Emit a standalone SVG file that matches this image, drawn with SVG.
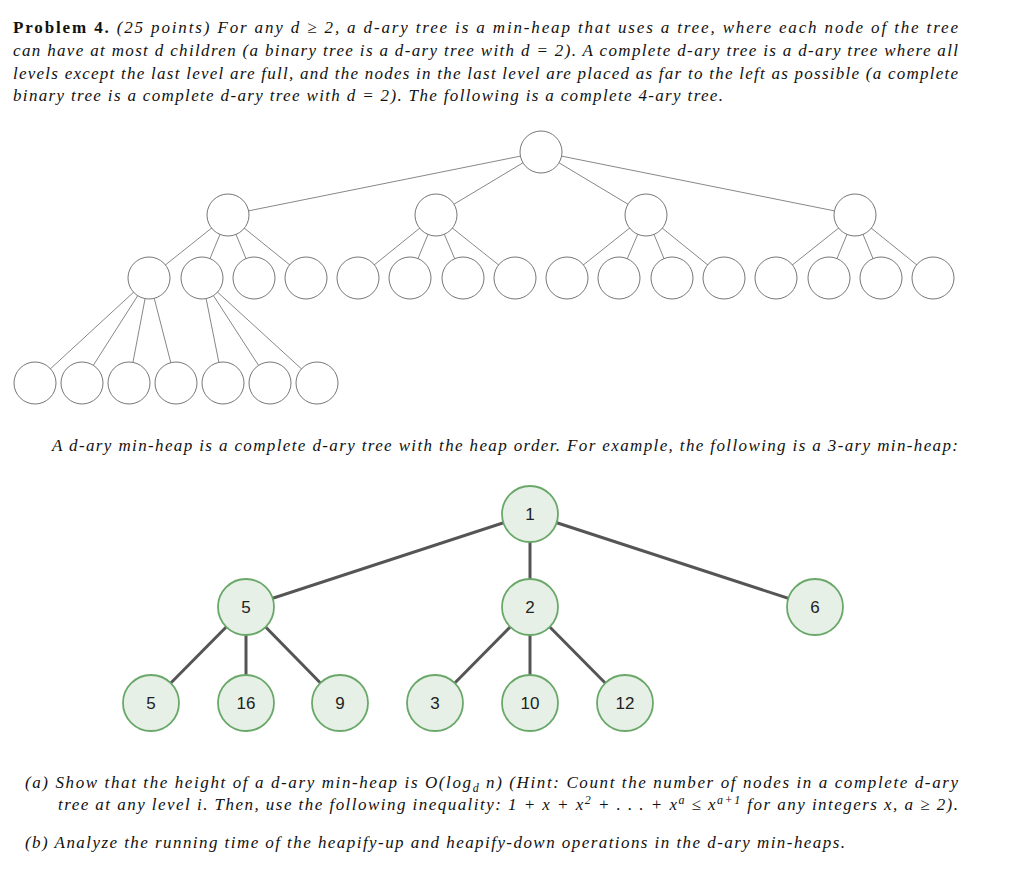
<svg xmlns="http://www.w3.org/2000/svg" width="1017" height="880" viewBox="0 0 1017 880">
<style>
.t{font-family:"Liberation Serif","DejaVu Serif",serif;font-size:17px;fill:#111}
.i{font-style:italic}
.b{font-weight:bold}
.e{fill:#fff;stroke:#777;stroke-width:1}
.ln{stroke:#888;stroke-width:1}
.h{fill:#e6f0e6;stroke:#6aa86a;stroke-width:1.8}
.hl{stroke:#555;stroke-width:3}
.n{font-family:"Liberation Sans","DejaVu Sans",sans-serif;font-size:17px;fill:#222;text-anchor:middle}
</style>
<rect width="1017" height="880" fill="#fff"/>
<text class="t" x="13" y="33" textLength="945" lengthAdjust="spacing"><tspan class="b">Problem 4.</tspan><tspan class="i"> (25 points) For any d ≥ 2, a d-ary tree is a min-heap that uses a tree, where each node of the tree</tspan></text>
<text class="t i" x="13" y="56" textLength="945" lengthAdjust="spacing">can have at most d children (a binary tree is a d-ary tree with d = 2). A complete d-ary tree is a d-ary tree where all</text>
<text class="t i" x="13" y="79" textLength="945" lengthAdjust="spacing">levels except the last level are full, and the nodes in the last level are placed as far to the left as possible (a complete</text>
<text class="t i" x="13" y="101" textLength="710" lengthAdjust="spacing">binary tree is a complete d-ary tree with d = 2). The following is a complete 4-ary tree.</text>
<text class="t i" x="52" y="451" textLength="906" lengthAdjust="spacing">A d-ary min-heap is a complete d-ary tree with the heap order. For example, the following is a 3-ary min-heap:</text>
<text class="t i" x="25" y="788" textLength="933" lengthAdjust="spacing">(a) Show that the height of a d-ary min-heap is O(log<tspan font-size="12" dy="4">d</tspan><tspan dy="-4"> n) (Hint: Count the number of nodes in a complete d-ary</tspan></text>
<text class="t i" x="58" y="810" textLength="900" lengthAdjust="spacing">tree at any level i. Then, use the following inequality: 1 + x + x<tspan font-size="12" dy="-6">2</tspan><tspan dy="6"> + . . . + x</tspan><tspan font-size="12" dy="-6">a</tspan><tspan dy="6"> ≤ x</tspan><tspan font-size="12" dy="-6">a+1</tspan><tspan dy="6"> for any integers x, a ≥ 2).</tspan></text>
<text class="t i" x="25" y="848" textLength="820" lengthAdjust="spacing">(b) Analyze the running time of the heapify-up and heapify-down operations in the d-ary min-heaps.</text>
<g id="connectors">
<g class="ln">
<line x1="541" y1="152" x2="228" y2="215"/><line x1="541" y1="152" x2="436" y2="215"/><line x1="541" y1="152" x2="646" y2="215"/><line x1="541" y1="152" x2="855" y2="215"/>
<line x1="228" y1="215" x2="149" y2="278"/><line x1="228" y1="215" x2="202" y2="278"/><line x1="228" y1="215" x2="254" y2="278"/><line x1="228" y1="215" x2="306" y2="278"/>
<line x1="436" y1="215" x2="358" y2="278"/><line x1="436" y1="215" x2="410" y2="278"/><line x1="436" y1="215" x2="463" y2="278"/><line x1="436" y1="215" x2="515" y2="278"/>
<line x1="646" y1="215" x2="567" y2="278"/><line x1="646" y1="215" x2="619" y2="278"/><line x1="646" y1="215" x2="672" y2="278"/><line x1="646" y1="215" x2="724" y2="278"/>
<line x1="855" y1="215" x2="776" y2="278"/><line x1="855" y1="215" x2="829" y2="278"/><line x1="855" y1="215" x2="881" y2="278"/><line x1="855" y1="215" x2="933" y2="278"/>
<line x1="149" y1="278" x2="35" y2="383"/><line x1="149" y1="278" x2="82" y2="383"/><line x1="149" y1="278" x2="129" y2="383"/><line x1="149" y1="278" x2="176" y2="383"/>
<line x1="202" y1="278" x2="223" y2="383"/><line x1="202" y1="278" x2="270" y2="383"/><line x1="202" y1="278" x2="317" y2="383"/>
</g>
<g class="hl">
<line x1="530" y1="514" x2="246" y2="607"/><line x1="530" y1="514" x2="530" y2="607"/><line x1="530" y1="514" x2="815" y2="607"/>
<line x1="246" y1="607" x2="151" y2="703"/><line x1="246" y1="607" x2="246" y2="703"/><line x1="246" y1="607" x2="340" y2="703"/>
<line x1="530" y1="607" x2="435" y2="703"/><line x1="530" y1="607" x2="530" y2="703"/><line x1="530" y1="607" x2="625" y2="703"/>
</g>
</g>
<g id="tree">
<circle id="r" class="e" cx="541" cy="152" r="21"/>
<circle id="a1" class="e" cx="228" cy="215" r="21"/><circle id="a2" class="e" cx="436" cy="215" r="21"/><circle id="a3" class="e" cx="646" cy="215" r="21"/><circle id="a4" class="e" cx="855" cy="215" r="21"/>
<circle class="e" cx="149" cy="278" r="21"/><circle class="e" cx="202" cy="278" r="21"/><circle class="e" cx="254" cy="278" r="21"/><circle class="e" cx="306" cy="278" r="21"/>
<circle class="e" cx="358" cy="278" r="21"/><circle class="e" cx="410" cy="278" r="21"/><circle class="e" cx="463" cy="278" r="21"/><circle class="e" cx="515" cy="278" r="21"/>
<circle class="e" cx="567" cy="278" r="21"/><circle class="e" cx="619" cy="278" r="21"/><circle class="e" cx="672" cy="278" r="21"/><circle class="e" cx="724" cy="278" r="21"/>
<circle class="e" cx="776" cy="278" r="21"/><circle class="e" cx="829" cy="278" r="21"/><circle class="e" cx="881" cy="278" r="21"/><circle class="e" cx="933" cy="278" r="21"/>
<circle class="e" cx="35" cy="383" r="21"/><circle class="e" cx="82" cy="383" r="21"/><circle class="e" cx="129" cy="383" r="21"/><circle class="e" cx="176" cy="383" r="21"/>
<circle class="e" cx="223" cy="383" r="21"/><circle class="e" cx="270" cy="383" r="21"/><circle class="e" cx="317" cy="383" r="21"/>
</g>
<g id="h1"><circle class="h" cx="530" cy="514" r="28"/><text class="n" x="530" y="520">1</text></g>
<g id="h5"><circle class="h" cx="246" cy="607" r="28"/><text class="n" x="246" y="613">5</text></g>
<g id="h2"><circle class="h" cx="530" cy="607" r="28"/><text class="n" x="530" y="613">2</text></g>
<g id="h6"><circle class="h" cx="815" cy="607" r="28"/><text class="n" x="815" y="613">6</text></g>
<g id="h5b"><circle class="h" cx="151" cy="703" r="28"/><text class="n" x="151" y="709">5</text></g>
<g id="h16"><circle class="h" cx="246" cy="703" r="28"/><text class="n" x="246" y="709">16</text></g>
<g id="h9"><circle class="h" cx="340" cy="703" r="28"/><text class="n" x="340" y="709">9</text></g>
<g id="h3"><circle class="h" cx="435" cy="703" r="28"/><text class="n" x="435" y="709">3</text></g>
<g id="h10"><circle class="h" cx="530" cy="703" r="28"/><text class="n" x="530" y="709">10</text></g>
<g id="h12"><circle class="h" cx="625" cy="703" r="28"/><text class="n" x="625" y="709">12</text></g>
</svg>
